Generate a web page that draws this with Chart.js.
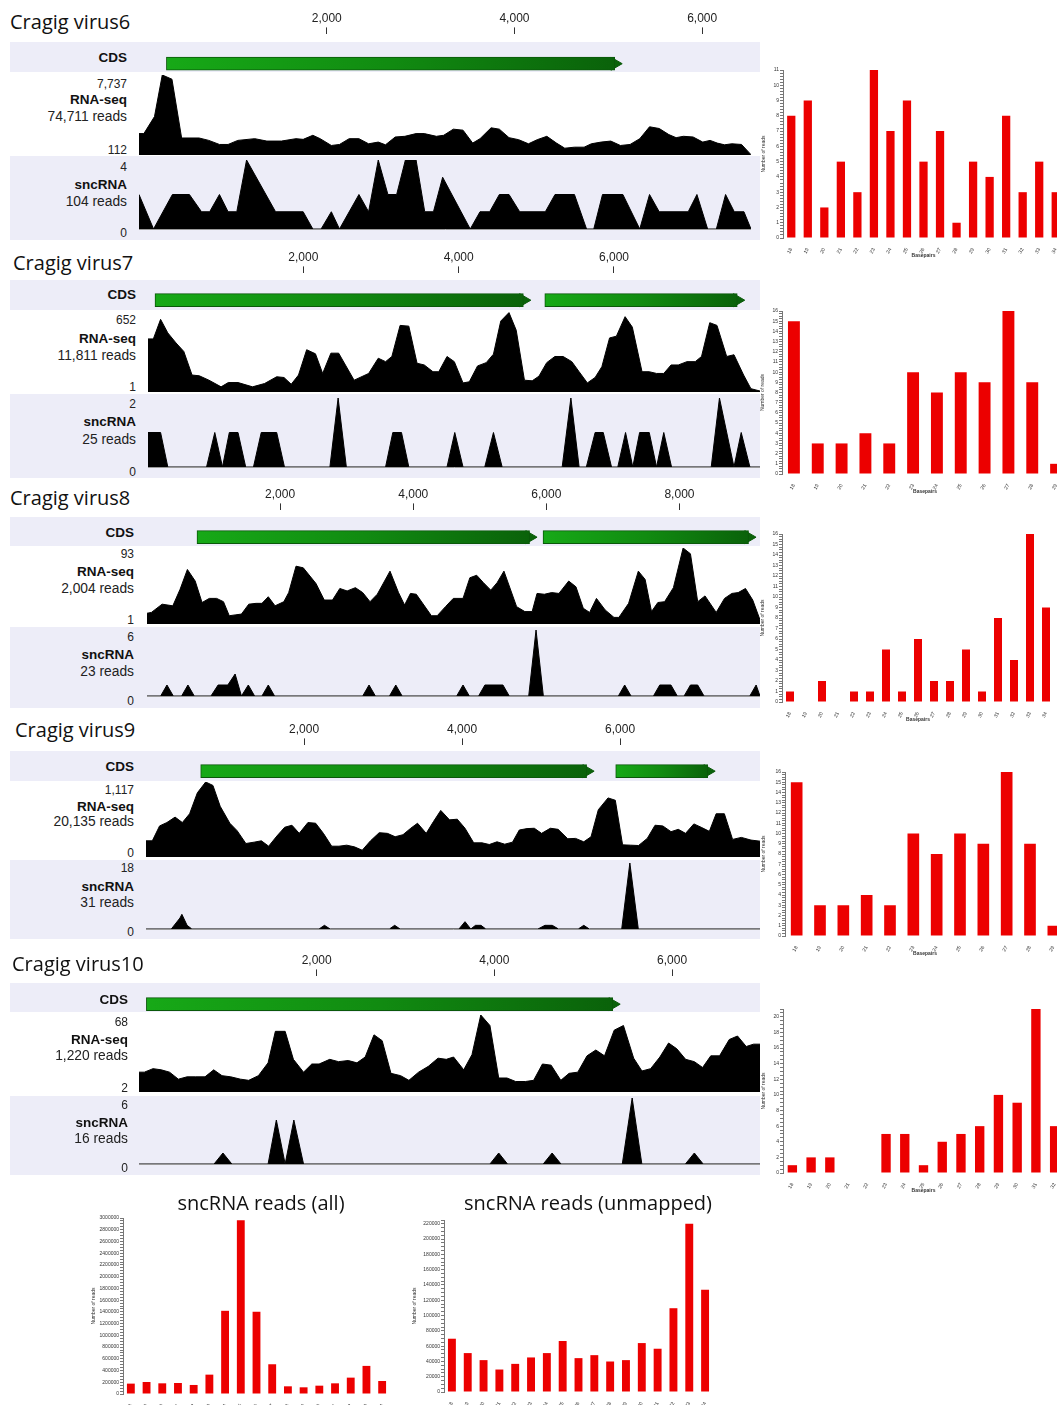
<!DOCTYPE html>
<html>
<head>
<meta charset="utf-8">
<script src="https://cdn.jsdelivr.net/npm/chart.js@4.4.1/dist/chart.umd.min.js"></script>
<style>
html, body { margin: 0; padding: 0; background: #fff; }
body { position: relative; width: 1057px; height: 1405px; overflow: hidden; }
canvas { position: absolute; }
.band { position: absolute; background: #ededf8; }
</style>
</head>
<body>
<script>
// ---- genome tracks: lengths (bp), ruler ticks and CDS ----
const v6Len = 6520, v7Len = 7880, v8Len = 9210, v9Len = 7770, v10Len = 6990;
const v6Ticks = [2000, 4000, 6000];
const v7Ticks = [2000, 4000, 6000];
const v8Ticks = [2000, 4000, 6000, 8000];
const v9Ticks = [2000, 4000, 6000];
const v10Ticks = [2000, 4000, 6000];
const v6CdsStart = [292],        v6CdsEnd = [5068];
const v7CdsStart = [90, 5109],   v7CdsEnd = [4833, 7587];
const v8CdsStart = [751, 5950],  v8CdsEnd = [5748, 9038];
const v9CdsStart = [692, 5944],  v9CdsEnd = [5576, 7108];
const v10CdsStart = [83],        v10CdsEnd = [5332];

// ---- RNA-seq coverage (position bp, reads) ----
const v6RnaPos = [0,52,165,248,351,454,640,743,857,949,1053,1233,1362,1517,1672,1749,1852,1930,2049,2136,2239,2343,2446,2549,2626,2730,2833,2952,3039,3168,3246,3349,3452,3555,3633,3751,3839,3942,4045,4149,4242,4345,4448,4536,4639,4742,4819,4923,5026,5129,5232,5335,5439,5542,5645,5722,5800,5903,6006,6084,6161,6238,6316,6419,6520];
const v6RnaVal = [2153,2153,3773,7737,7337,1733,1733,1505,1116,1116,1505,1667,1440,1440,1667,1602,1991,1667,1019,1116,1667,1667,1181,1343,1084,1829,1894,2153,2153,1894,1991,2574,2477,1246,1667,2704,2574,1764,1570,1181,1570,1894,1246,760,857,857,1181,1343,1440,1019,1116,1667,2801,2639,2056,1764,1894,1829,1343,1505,1246,1084,1181,1116,144];
const v7RnaPos = [0,69,162,255,361,461,567,660,785,941,1034,1159,1346,1501,1657,1751,1844,1938,2043,2156,2249,2355,2455,2654,2841,2965,3059,3140,3246,3358,3464,3557,3669,3744,3850,3944,4056,4137,4243,4355,4448,4542,4648,4741,4847,4947,5034,5134,5239,5345,5457,5551,5657,5757,5844,5943,6031,6143,6236,6361,6454,6548,6641,6735,6828,6940,7046,7127,7233,7326,7451,7545,7669,7763,7880];
const v7RnaVal = [433,433,592,482,400,331,139,133,97,43,78,78,43,70,125,119,64,139,345,312,152,317,317,97,152,276,248,290,543,537,235,221,166,166,290,248,75,84,213,240,309,578,647,504,97,92,130,240,290,290,248,166,75,119,207,441,455,614,529,166,166,152,152,221,221,248,248,290,565,543,290,304,139,28,9];
const v8RnaPos = [0,66,227,388,497,607,724,827,936,1046,1149,1236,1324,1419,1529,1639,1727,1822,1924,2056,2129,2239,2348,2539,2663,2787,2897,3007,3131,3241,3351,3460,3651,3779,3870,3958,4046,4273,4360,4485,4602,4748,4851,4953,5055,5165,5260,5363,5553,5677,5787,5860,5970,6080,6189,6336,6445,6555,6650,6753,6884,7016,7090,7236,7382,7484,7580,7675,7777,7909,8055,8165,8274,8384,8552,8677,8787,8882,8992,9101,9210];
const v8RnaVal = [14,15,25,23,43,67,53,27,32,32,28,11,12,13,25,26,26,34,23,28,39,71,69,50,30,30,44,41,45,39,28,37,65,39,24,38,37,11,11,22,32,32,57,60,51,42,51,65,22,16,16,38,37,39,38,53,46,20,15,32,18,9,9,26,65,55,16,27,28,45,93,86,28,35,15,32,38,39,44,30,6];
const v9RnaPos = [0,80,172,264,368,460,552,650,755,847,939,1061,1153,1264,1368,1460,1552,1656,1755,1847,1939,2049,2147,2245,2350,2442,2540,2638,2736,2841,2951,3055,3153,3252,3350,3436,3546,3638,3730,3841,3939,4037,4147,4252,4344,4442,4540,4638,4724,4822,4914,5006,5117,5215,5337,5436,5540,5632,5724,5847,5939,6031,6135,6233,6343,6442,6540,6644,6736,6828,6933,7025,7129,7215,7319,7423,7534,7656,7770];
const v9RnaVal = [241,241,463,513,594,513,644,956,1117,1066,755,503,392,201,221,241,161,312,443,473,352,513,503,352,161,161,176,151,101,241,362,352,302,332,428,503,352,528,694,553,563,428,211,211,186,226,191,221,402,423,428,352,428,412,272,277,226,302,704,880,845,181,176,171,277,473,463,377,412,352,493,443,382,644,644,262,292,252,236];
const v10RnaPos = [0,60,158,251,344,443,541,634,743,841,934,1033,1142,1235,1344,1453,1535,1645,1738,1852,1945,2027,2147,2246,2355,2453,2546,2645,2737,2836,2945,3038,3147,3257,3366,3459,3541,3655,3748,3847,3950,4049,4142,4240,4349,4442,4541,4639,4748,4841,4939,5043,5142,5240,5349,5453,5568,5661,5759,5863,5961,6054,6153,6251,6344,6436,6535,6644,6737,6835,6917,6990];
const v10RnaVal = [19,19,22,21,19,13,15,15,15,21,16,15,13,12,16,27,54,54,30,19,26,26,30,28,29,27,32,51,46,18,16,12,19,24,31,30,32,21,34,68,59,14,14,11,11,12,26,25,12,18,19,33,38,33,55,59,31,20,22,32,44,39,30,28,23,33,33,47,50,41,43,43];

// ---- sncRNA coverage (position bp, reads) ----
const v6SncPos = [0,155,356,537,666,753,857,949,1042,1146,1455,1749,1852,1940,2049,2136,2343,2446,2549,2652,2745,2838,2952,3044,3137,3235,3529,3633,3736,3839,3942,4056,4329,4432,4639,4768,4845,4938,5155,5335,5439,5542,5851,5944,6058,6151,6249,6342,6445,6520];
const v6SncVal = [2,0,2,2,1,1,2,1,1,4,1,1,0,0,1,0,2,1,4,2,2,4,4,1,1,3,0,1,1,2,2,1,1,2,2,0,0,2,2,0,2,1,1,2,0,0,2,1,1,0];
const v7SncPos = [0,162,255,754,860,959,1047,1159,1258,1358,1458,1657,1757,2342,2448,2554,3059,3152,3264,3358,3850,3950,4056,4336,4448,4560,5333,5445,5551,5644,5757,5862,5968,6049,6149,6242,6330,6454,6548,6641,6741,7252,7358,7545,7638,7750,7880];
const v7SncVal = [1,1,0,0,1,0,1,1,0,0,1,1,0,0,2,0,0,1,1,0,0,1,0,0,1,0,0,2,0,0,1,1,0,0,1,0,1,1,0,1,0,0,2,0,1,0,0];
const v8SncPos = [0,205,300,395,520,615,710,961,1068,1214,1324,1419,1522,1617,1727,1822,1917,3241,3336,3431,3643,3738,3833,4653,4748,4843,4982,5077,5348,5443,5735,5845,5955,7082,7177,7272,7609,7704,7872,7967,8070,8165,8274,8369,9057,9152,9210];
const v8SncVal = [0,0,1,0,0,1,0,0,1,1,2,0,1,0,0,1,0,0,1,0,0,1,0,0,1,0,0,1,1,0,0,6,0,0,1,0,0,1,1,0,0,1,1,0,0,1,0];
const v9SncPos = [0,320,430,454,520,580,2190,2258,2330,3080,3147,3215,3960,4037,4110,4170,4239,4300,4960,5049,5141,5220,5470,5540,5610,6020,6123,6230,7770];
const v9SncVal = [0,0,3,4,1,0,0,1,0,0,1,0,0,2,0,1,1,0,0,1,1,0,0,1,0,0,18,0,0];
const v10SncPos = [0,845,945,1045,1453,1546,1645,1743,1852,3950,4049,4148,4550,4650,4750,5440,5551,5660,6150,6251,6350,6990];
const v10SncVal = [0,0,1,0,0,4,0,4,0,0,1,0,0,1,0,0,6,0,0,1,0,0];

// ---- read length histograms ----
const len17 = ['18','19','20','21','22','23','24','25','26','27','28','29','30','31','32','33','34'];
const len15 = ['18','19','20','21','22','23','24','25','26','27','28','29','30','31','32'];
const len12 = ['18','19','20','21','22','23','24','25','26','27','28','29'];
const v6Bars = [8,9,2,5,3,11,7,9,5,7,1,5,4,8,3,5,3];
const v7Bars = [15,3,3,4,3,10,8,10,9,16,9,1];
const v8Bars = [1,0,2,0,1,1,5,1,6,2,2,5,1,8,4,16,9];
const v9Bars = [15,3,3,4,3,10,8,10,9,16,9,1];
const v10Bars = [1,2,2,0,0,5,5,1,4,5,6,10,9,21,6];
const allReads = [177000,205000,182000,188000,154000,330000,1418000,2963000,1402000,507000,131000,114000,142000,182000,279000,479000,222000];
const unmappedReads = [69700,50900,41700,29400,36800,45200,50900,66700,44300,48200,39900,41700,64000,56600,109600,220000,133800];

const LABEL_FONT = '"Liberation Sans", Arial, sans-serif';

function addBox(x, y, w, h) {
  const d = document.createElement('div');
  d.className = 'band';
  d.style.left = x + 'px'; d.style.top = y + 'px';
  d.style.width = w + 'px'; d.style.height = h + 'px';
  document.body.appendChild(d);
}

function addCanvas(x, y, w, h) {
  const c = document.createElement('canvas');
  c.width = Math.round(w); c.height = Math.round(h);
  c.style.left = x + 'px'; c.style.top = y + 'px';
  document.body.appendChild(c);
  return c.getContext('2d');
}

function addText(str, x, y, size, opts) {
  opts = opts || {};
  const d = document.createElement('div');
  d.textContent = str;
  const s = d.style;
  s.position = 'absolute'; s.top = y + 'px'; s.transform = 'translateY(-50%)';
  s.lineHeight = '1'; s.whiteSpace = 'nowrap'; s.fontSize = size + 'px';
  s.fontFamily = opts.family || LABEL_FONT;
  s.fontWeight = opts.bold ? 'bold' : 'normal';
  s.color = opts.color || '#111';
  if (opts.align === 'right') { s.left = (x - 300) + 'px'; s.width = '300px'; s.textAlign = 'right'; }
  else if (opts.align === 'center') { s.left = (x - 200) + 'px'; s.width = '400px'; s.textAlign = 'center'; }
  else s.left = x + 'px';
  document.body.appendChild(d);
}

const noPlugins = { legend: { display: false }, tooltip: { enabled: false } };

// CDS arrows + top ruler
function cdsTrack(p) {
  const top = p.tickY - 9.2;
  const axisBottom = p.tickY + 16.2;
  const bottom = 2 * p.arrowY - axisBottom;
  const ctx = addCanvas(p.x0, top, p.x1 - p.x0, bottom - top);
  const green = function(c) {
    const ch = c.chart, r = c.raw;
    if (!ch.chartArea || !Array.isArray(r)) return '#119611';
    const xs = ch.scales.x;
    const g = ch.ctx.createLinearGradient(xs.getPixelForValue(r[0]), 0, xs.getPixelForValue(r[1]), 0);
    g.addColorStop(0, '#17a917');
    g.addColorStop(0.5, '#118b11');
    g.addColorStop(1, '#0a620a');
    return g;
  };
  const sets = p.cdsStart.map(function(s, i) {
    return { type: 'bar', data: [[s, p.cdsEnd[i]]], backgroundColor: green, borderColor: '#0a580a',
      borderWidth: 1, borderSkipped: false, barThickness: 13, grouped: false };
  });
  sets.push({ type: 'scatter', data: p.cdsEnd.map(function(e) { return { x: e, y: 'CDS' }; }),
    pointStyle: 'triangle', rotation: 90, pointRadius: 7.5, pointHoverRadius: 7.5,
    backgroundColor: '#0a620a', borderColor: '#0a580a', borderWidth: 1 });
  new Chart(ctx, {
    type: 'bar',
    data: { labels: ['CDS'], datasets: sets },
    options: {
      indexAxis: 'y', responsive: false, animation: false, events: [],
      layout: { padding: 0, autoPadding: false }, plugins: noPlugins,
      scales: {
        x: {
          type: 'linear', position: 'top', min: 0, max: p.len,
          afterBuildTicks: function(a) { a.ticks = p.ticks.map(function(v) { return { value: v }; }); },
          ticks: { autoSkip: false, maxRotation: 0, padding: 2, color: '#222',
            font: { size: 12, family: LABEL_FONT },
            callback: function(v) { return Number(v).toLocaleString('en-US'); } },
          grid: { drawOnChartArea: false, drawTicks: true, tickLength: 7, tickColor: '#333', tickWidth: 1 },
          border: { display: false }
        },
        y: { type: 'category', display: false }
      }
    }
  });
}

// coverage area (RNA-seq or sncRNA)
function coverage(p, pos, val, yTop, yBot, yMin, yMax, withBase) {
  const ctx = addCanvas(p.x0, yTop, p.x1 - p.x0, yBot - yTop + (withBase ? 1 : 0));
  new Chart(ctx, {
    type: 'line',
    data: { datasets: [{ data: pos.map(function(x, i) { return { x: x, y: val[i] }; }),
      fill: 'start', backgroundColor: '#000', borderColor: '#000', borderWidth: 1,
      pointRadius: 0, tension: 0 }] },
    options: {
      responsive: false, animation: false, events: [],
      layout: { padding: { bottom: withBase ? 1 : 0 }, autoPadding: false }, plugins: noPlugins,
      scales: {
        x: { type: 'linear', min: 0, max: p.len, display: withBase,
          grid: { display: false }, ticks: { display: false }, border: { color: '#9a9a9a', width: 1 } },
        y: { min: yMin, max: yMax, display: false }
      }
    }
  });
}

const panels = [
  { title: 'Cragig virus6', titleX: 10, titleY: 22, tickY: 18, arrowY: 63.3, x0: 138.6, x1: 751, len: v6Len, ticks: v6Ticks,
    cdsStart: v6CdsStart, cdsEnd: v6CdsEnd, cdsBand: [42, 72], sncBand: [156, 240],
    rna: [75, 155], snc: [160, 237], rnaPos: v6RnaPos, rnaVal: v6RnaVal, rnaMin: 112, rnaMax: 7737, rnaReads: '74,711 reads',
    sncPos: v6SncPos, sncVal: v6SncVal, sncMax: 4, sncReads: '104 reads',
    labelX: 127, labelY: [58, 84, 100, 117, 150, 167, 185, 202, 233] },
  { title: 'Cragig virus7', titleX: 13, titleY: 263, tickY: 257, arrowY: 300, x0: 148, x1: 760, len: v7Len, ticks: v7Ticks,
    cdsStart: v7CdsStart, cdsEnd: v7CdsEnd, cdsBand: [280, 310], sncBand: [394, 478],
    rna: [312, 392], snc: [398, 475], rnaPos: v7RnaPos, rnaVal: v7RnaVal, rnaMin: 1, rnaMax: 652, rnaReads: '11,811 reads',
    sncPos: v7SncPos, sncVal: v7SncVal, sncMax: 2, sncReads: '25 reads',
    labelX: 136, labelY: [295, 320, 339, 356, 387, 404, 422, 440, 472] },
  { title: 'Cragig virus8', titleX: 10, titleY: 498, tickY: 494, arrowY: 537, x0: 147, x1: 760, len: v8Len, ticks: v8Ticks,
    cdsStart: v8CdsStart, cdsEnd: v8CdsEnd, cdsBand: [517, 546], sncBand: [627, 708],
    rna: [548, 624], snc: [630, 704], rnaPos: v8RnaPos, rnaVal: v8RnaVal, rnaMin: 1, rnaMax: 93, rnaReads: '2,004 reads',
    sncPos: v8SncPos, sncVal: v8SncVal, sncMax: 6, sncReads: '23 reads',
    labelX: 134, labelY: [533, 554, 572, 589, 620, 637, 655, 672, 701] },
  { title: 'Cragig virus9', titleX: 15, titleY: 730, tickY: 729, arrowY: 771, x0: 146, x1: 760, len: v9Len, ticks: v9Ticks,
    cdsStart: v9CdsStart, cdsEnd: v9CdsEnd, cdsBand: [751, 781], sncBand: [860, 939],
    rna: [782, 857], snc: [863, 937], rnaPos: v9RnaPos, rnaVal: v9RnaVal, rnaMin: 0, rnaMax: 1117, rnaReads: '20,135 reads',
    sncPos: v9SncPos, sncVal: v9SncVal, sncMax: 18, sncReads: '31 reads',
    labelX: 134, labelY: [767, 790, 807, 822, 853, 868, 887, 903, 932] },
  { title: 'Cragig virus10', titleX: 12, titleY: 964, tickY: 960, arrowY: 1004, x0: 139, x1: 760, len: v10Len, ticks: v10Ticks,
    cdsStart: v10CdsStart, cdsEnd: v10CdsEnd, cdsBand: [983, 1012], sncBand: [1096, 1175],
    rna: [1015, 1092], snc: [1098, 1172], rnaPos: v10RnaPos, rnaVal: v10RnaVal, rnaMin: 2, rnaMax: 68, rnaReads: '1,220 reads',
    sncPos: v10SncPos, sncVal: v10SncVal, sncMax: 6, sncReads: '16 reads',
    labelX: 128, labelY: [1000, 1022, 1040, 1056, 1088, 1105, 1123, 1139, 1168] }
];

panels.forEach(function(p) {
  addBox(10, p.cdsBand[0], 750, p.cdsBand[1] - p.cdsBand[0]);
  addBox(10, p.sncBand[0], 750, p.sncBand[1] - p.sncBand[0]);
  cdsTrack(p);
  coverage(p, p.rnaPos, p.rnaVal, p.rna[0], p.rna[1], p.rnaMin, p.rnaMax, false);
  coverage(p, p.sncPos, p.sncVal, p.snc[0], p.snc[1], 0, p.sncMax, true);
  addText(p.title, p.titleX, p.titleY, 20, { family: '"Open Sans", sans-serif', color: '#111' });
  const ly = p.labelY, lx = p.labelX;
  addText('CDS', lx, ly[0], 13.5, { bold: true, align: 'right' });
  addText(p.rnaMax.toLocaleString('en-US'), lx, ly[1], 12, { align: 'right', color: '#222' });
  addText('RNA-seq', lx, ly[2], 13.5, { bold: true, align: 'right' });
  addText(p.rnaReads, lx, ly[3], 13.8, { align: 'right', color: '#222' });
  addText(p.rnaMin.toLocaleString('en-US'), lx, ly[4], 12, { align: 'right', color: '#222' });
  addText(String(p.sncMax), lx, ly[5], 12, { align: 'right', color: '#222' });
  addText('sncRNA', lx, ly[6], 13.5, { bold: true, align: 'right' });
  addText(p.sncReads, lx, ly[7], 13.8, { align: 'right', color: '#222' });
  addText('0', lx, ly[8], 12, { align: 'right', color: '#222' });
});

// red read-length histograms
function readChart(c) {
  const n = c.values.length, xh = 24;
  const w = c.yw + n * c.catW, h = 4 + (c.base - c.top) + xh;
  const ctx = addCanvas(c.x0 - c.yw, c.top - 4, w, h);
  new Chart(ctx, {
    type: 'bar',
    data: { labels: c.labels, datasets: [{ data: c.values, backgroundColor: '#ec0000',
      barPercentage: 0.5, categoryPercentage: 1 }] },
    options: {
      responsive: false, animation: false, events: [],
      layout: { padding: { top: 4 }, autoPadding: false }, plugins: noPlugins,
      scales: {
        x: {
          grid: { display: false }, border: { display: false },
          ticks: { font: { size: 5 }, color: '#333', maxRotation: 60, minRotation: 60, autoSkip: false, padding: 1 },
          title: { display: true, text: 'Basepairs', font: { size: 5, weight: 'bold' }, color: '#333', padding: { top: 2, bottom: 3 } },
          afterFit: function(s) { s.height = xh; }
        },
        y: {
          min: 0, max: c.max,
          grid: { drawOnChartArea: false, tickLength: 3, color: '#777' },
          border: { color: '#777' },
          ticks: { stepSize: c.minor, autoSkip: false, font: { size: 5 }, color: '#333', padding: 1,
            callback: function(v) { const k = v / c.major; return Math.abs(k - Math.round(k)) < 1e-6 ? String(Math.round(v)) : ''; } },
          title: { display: true, text: 'Number of reads', font: { size: 5 }, color: '#333', padding: 0 },
          afterFit: function(s) { s.width = c.yw; }
        }
      }
    }
  });
}

readChart({ labels: len17, values: v6Bars,  x0: 783, catW: 16.5, top: 70,   base: 238,  max: 11, major: 1, minor: 0.2,  yw: 22 });
readChart({ labels: len12, values: v7Bars,  x0: 782, catW: 23.8, top: 311,  base: 474,  max: 16, major: 1, minor: 0.25, yw: 22 });
readChart({ labels: len17, values: v8Bars,  x0: 782, catW: 16,   top: 534,  base: 702,  max: 16, major: 1, minor: 0.25, yw: 22 });
readChart({ labels: len12, values: v9Bars,  x0: 785, catW: 23.3, top: 772,  base: 936,  max: 16, major: 1, minor: 0.25, yw: 24 });
readChart({ labels: len15, values: v10Bars, x0: 783, catW: 18.7, top: 1009, base: 1173, max: 21, major: 2, minor: 0.5,  yw: 22 });
readChart({ labels: len17, values: allReads, x0: 123, catW: 15.7, top: 1217.5, base: 1393, max: 3000000, major: 200000, minor: 50000, yw: 32 });
readChart({ labels: len17, values: unmappedReads, x0: 444, catW: 15.8, top: 1220.2, base: 1392, max: 225000, major: 20000, minor: 5000, yw: 32 });

addText('sncRNA reads (all)', 261, 1203, 20, { family: '"Open Sans", sans-serif', align: 'center', color: '#111' });
addText('sncRNA reads (unmapped)', 588, 1203, 20, { family: '"Open Sans", sans-serif', align: 'center', color: '#111' });
</script>
</body>
</html>
